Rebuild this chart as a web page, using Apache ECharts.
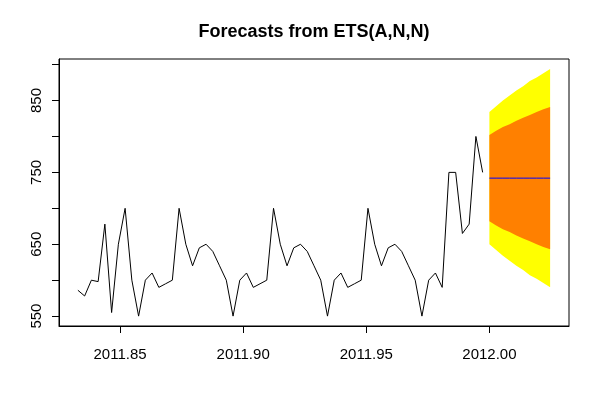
<!DOCTYPE html>
<html><head><meta charset="utf-8">
<script src="https://cdn.jsdelivr.net/npm/echarts@6/dist/echarts.min.js"></script>
<style>html,body{margin:0;padding:0;background:#fff}#c{width:600px;height:400px}</style>
</head><body><div id="c"></div>
<script>
// time-series attributes (frequency 365, first observation = day 305 of 2011)
const freq = 365;
const startYear = 2011;
const startOffset = 304;

const observed = [586, 578, 600, 598, 678, 555, 650, 700, 600, 550,
                  600, 610, 590, 595, 600, 700, 650, 620, 645, 650,
                  640, 620, 600, 550, 600, 610, 590, 595, 600, 700,
                  650, 620, 645, 650, 640, 620, 600, 550, 600, 610,
                  590, 595, 600, 700, 650, 620, 645, 650, 640, 620,
                  600, 550, 600, 610, 590, 750, 750, 665, 678, 800,
                  750];

const forecastMean = [742, 742, 742, 742, 742, 742, 742, 742, 742, 742];
const lower80 = [682, 676, 671, 667, 662, 658, 654, 650, 646, 643];
const upper80 = [802, 808, 813, 817, 822, 826, 830, 834, 838, 841];
const lower95 = [650, 642, 634, 627, 620, 614, 607, 602, 596, 590];
const upper95 = [834, 842, 850, 857, 864, 870, 877, 882, 888, 894];

const xTicks = [2011.85, 2011.90, 2011.95, 2012.00];
const yTicks = [550, 600, 650, 700, 750, 800, 850, 900];
const yLabels = [550, 650, 750, 850];

const titleText = 'Forecasts from ETS(A,N,N)';

const obsTime = observed.map((v, i) => startYear + (startOffset + i) / freq);
const fcTime = forecastMean.map((v, i) => startYear + (startOffset + observed.length + i) / freq);

const xLo = obsTime[0], xHi = fcTime[fcTime.length - 1];
const xPad = (xHi - xLo) * 0.04;
const yLo = Math.min(...observed, ...lower95), yHi = Math.max(...observed, ...upper95);
const yPad = (yHi - yLo) * 0.04;

const FONT = '"Liberation Sans", Arial, Helvetica, sans-serif';

function bandSeries(lo, hi, color, z) {
  return {
    type: 'custom',
    coordinateSystem: 'cartesian2d',
    silent: true,
    z: z,
    data: [[fcTime[0], lo[0]]],
    renderItem: function (params, api) {
      const pts = [];
      for (let i = 0; i < fcTime.length; i++) pts.push(api.coord([fcTime[i], hi[i]]));
      for (let i = fcTime.length - 1; i >= 0; i--) pts.push(api.coord([fcTime[i], lo[i]]));
      return { type: 'polygon', shape: { points: pts }, style: { fill: color, stroke: null } };
    }
  };
}

const chart = echarts.init(document.getElementById('c'), null, { renderer: 'canvas' });
chart.setOption({
  animation: false,
  backgroundColor: '#fff',
  title: {
    text: titleText,
    left: 314,
    textAlign: 'center',
    top: 23,
    padding: 0,
    textStyle: { fontSize: 18, fontWeight: 'bold', color: '#000', fontFamily: FONT }
  },
  grid: { left: 59, right: 31, top: 59, bottom: 74, show: true, borderColor: '#000', borderWidth: 1, backgroundColor: 'transparent' },
  xAxis: {
    type: 'value',
    min: xLo - xPad,
    max: xHi + xPad,
    axisLine: { show: true, lineStyle: { color: '#000', width: 1 } },
    axisTick: { show: true, length: 7, customValues: xTicks, lineStyle: { color: '#000', width: 1 } },
    axisLabel: { customValues: xTicks, formatter: v => v.toFixed(2), fontSize: 15, color: '#000', fontFamily: FONT, margin: 21 },
    splitLine: { show: false }
  },
  yAxis: {
    type: 'value',
    min: yLo - yPad,
    max: yHi + yPad,
    axisLine: { show: true, lineStyle: { color: '#000', width: 1 } },
    axisTick: { show: true, length: 7, customValues: yTicks, lineStyle: { color: '#000', width: 1 } },
    axisLabel: { customValues: yLabels, rotate: 90, fontSize: 15, color: '#000', fontFamily: FONT, margin: 15 },
    splitLine: { show: false }
  },
  series: [
    bandSeries(lower95, upper95, '#FFFF00', 1),
    bandSeries(lower80, upper80, '#FF8000', 2),
    {
      type: 'line', z: 3, silent: true, showSymbol: false,
      data: fcTime.map((t, i) => [t, forecastMean[i]]),
      lineStyle: { color: '#0000FF', width: 1 }
    },
    {
      type: 'line', z: 4, silent: true, showSymbol: false,
      data: obsTime.map((t, i) => [t, observed[i]]),
      lineStyle: { color: '#000', width: 1 }
    }
  ]
});
</script>
</body></html>
